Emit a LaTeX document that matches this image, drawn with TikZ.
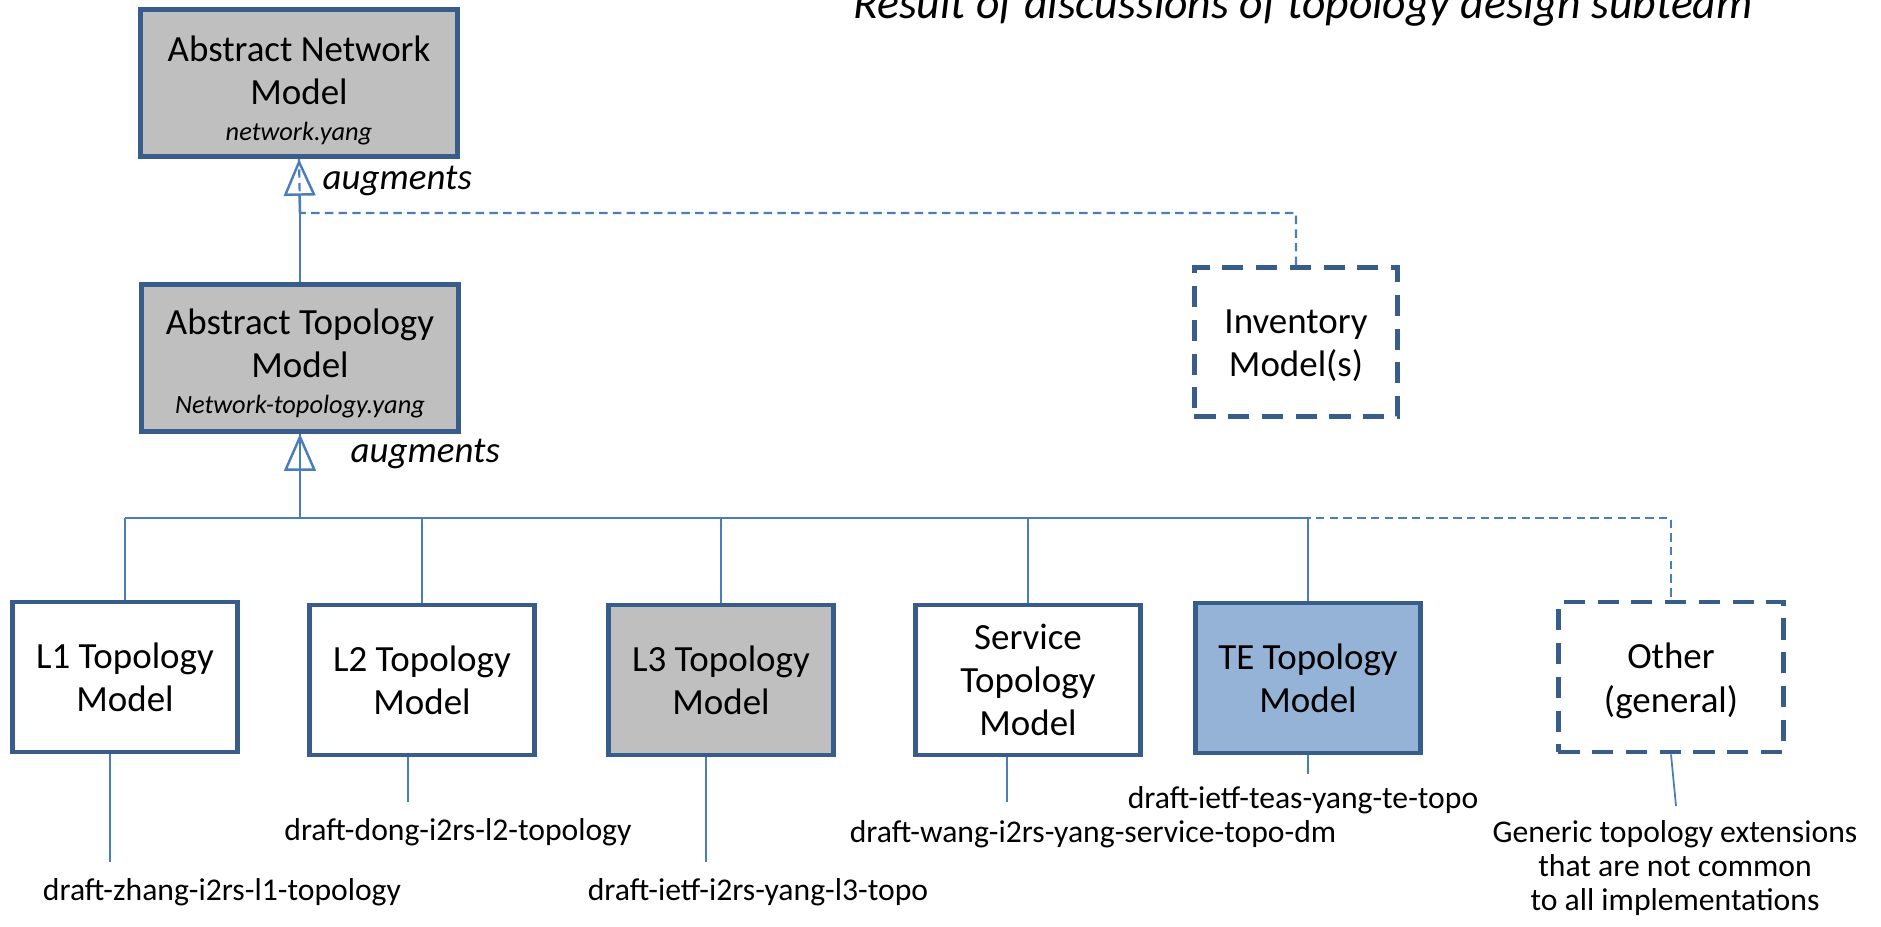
\documentclass[tikz,border=0pt]{standalone}
\usepackage{fontspec}
\setmainfont{Carlito}
\usetikzlibrary{arrows.meta}

\definecolor{boxblue}{HTML}{385D8A}
\definecolor{linkblue}{HTML}{4A7EBB}
\definecolor{modgray}{HTML}{BFBFBF}
\definecolor{teblue}{HTML}{95B3D7}

\tikzset{
  model/.style={draw=boxblue,line width=1.3pt,fill=white,minimum width=2.25cm,
    minimum height=1.5cm,align=center,inner sep=1pt,
    font=\fontsize{10.5}{12.3}\selectfont},
  absmodel/.style={model,fill=modgray,minimum width=3.17cm,minimum height=1.47cm},
  openmodel/.style={model,dash pattern=on 6pt off 3.6pt},
  conn/.style={draw=linkblue,line width=0.7pt},
  dconn/.style={draw=linkblue,line width=0.6pt,dash pattern=on 2.4pt off 1.5pt},
  augtip/.style={-{Triangle[open,width=9pt,length=10.5pt]}},
  draftlbl/.style={font=\fontsize{9}{9.6}\selectfont,align=center,inner sep=0pt},
  auglbl/.style={font=\fontsize{10.5}{12}\selectfont\itshape,anchor=west,inner sep=0pt}
}

\begin{document}
\begin{tikzpicture}[x=0.01cm,y=-0.01cm]
\useasboundingbox (0,0) rectangle (1881,926);

% Title (cut at the top edge)
\node[anchor=base,font=\fontsize{13}{15}\selectfont\itshape] (ttl) at (1303,18)
  {Result of discussions of topology design subteam};

% Abstract models
\node[absmodel] (anm) at (299,83) {\rule{0pt}{11.5pt}Abstract Network\\Model\\[-2pt]{\fontsize{7.5}{9}\selectfont\itshape network.yang}};
\node[absmodel] (atm) at (300,358) {\rule{0pt}{10.5pt}Abstract Topology\\Model\\[-2pt]{\fontsize{7.5}{9}\selectfont\itshape Network-topology.yang}};
\node[openmodel,minimum width=2.03cm,minimum height=1.49cm] (inv) at (1296,342) {\rule{0pt}{9pt}Inventory\\Model(s)};

% Topology models
\node[model] (l1) at (125,677) {L1 Topology\\Model};
\node[model] (l2) at (422,680) {L2 Topology\\Model};
\node[model,fill=modgray] (l3) at (721,680) {L3 Topology\\Model};
\node[model] (svc) at (1028,680) {Service\\Topology\\Model};
\node[model,fill=teblue] (te) at (1308,678) {TE Topology\\Model};
\node[openmodel] (oth) at (1671,677) {\rule{0pt}{9.5pt}Other\\(general)};

% Joints
\coordinate (j1) at (300,213);
\coordinate (bus) at (300,518);

% augments: network <- topology, inventory
\draw[conn] (atm.north) -- (j1);
\draw[conn,augtip] (j1) -- (anm.south);
\draw[dconn] (inv.north) |- (j1) -- (anm.south);
\node[auglbl] (aug1) at (322,181) {augments};

% augments: topology <- specific models
\draw[conn] (bus) -- (atm.south);
\draw[conn,augtip] (bus) -- (atm.south);
\node[auglbl] (aug2) at (350,454) {augments};

\draw[dconn] (svc.north |- bus) -| (oth.north);
\draw[conn] (l1.north |- bus) -- (te.north |- bus);
\foreach \b in {l1,l2,l3,svc,te} {
  \draw[conn] (\b.north) -- (\b.north |- bus);
}

% Drafts
\node[draftlbl] (d1) at (222,892) {draft-zhang-i2rs-l1-topology};
\node[draftlbl] (d2) at (458,832) {draft-dong-i2rs-l2-topology};
\node[draftlbl] (d3) at (758,892) {draft-ietf-i2rs-yang-l3-topo};
\node[draftlbl] (d4) at (1093,834) {draft-wang-i2rs-yang-service-topo-dm};
\node[draftlbl] (d5) at (1303,800) {draft-ietf-teas-yang-te-topo};
\node[draftlbl] (d6) at (1675,868) {Generic topology extensions\\that are not common\\to all implementations};

\foreach \b/\x/\y in {l1/110/862,l2/408/802,l3/706/862,svc/1007/802,te/1308/774} {
  \coordinate (\b-end) at (\x,\y);
  \draw[conn] (\b-end |- \b.south) -- (\b-end);
}
\coordinate (oth-end) at (1676,806);
\draw[conn,line width=0.5pt] (oth.south) -- (oth-end);
\end{tikzpicture}
\end{document}
